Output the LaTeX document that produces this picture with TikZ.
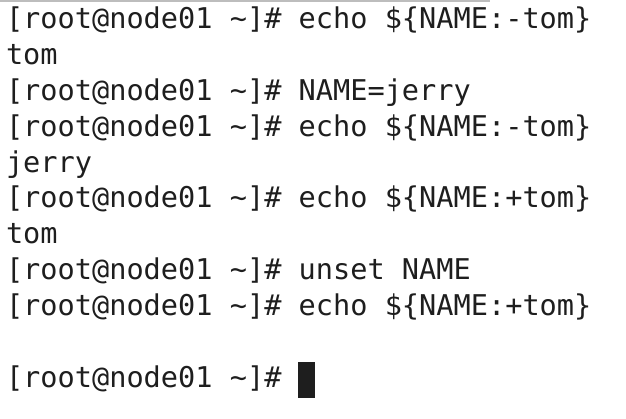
\documentclass[tikz,border=0pt]{standalone}
\usepackage{fontspec}
\setmonofont{DejaVu Sans Mono}
\begin{document}
\begin{tikzpicture}[x=1pt,y=1pt,
  term/.style={anchor=base west,inner sep=0pt,outer sep=0pt,font=\ttfamily\fontsize{28.6}{34}\selectfont,text=termtext}]
\definecolor{termtext}{HTML}{1E1E1E}
\definecolor{topline}{HTML}{BDBDBD}
\useasboundingbox (0,0) rectangle (626,-419);
\fill[white] (0,0) rectangle (626,-419);
\fill[topline] (0,0) rectangle (490,-2);
\def\P{[root@node01 \textasciitilde]\# }
\node[term] (l1) at (6,-28.5) {\P echo \$\{NAME:-tom\}};
\node[term] (l2) at (6,-64.4) {tom};
\node[term] (l3) at (6,-100.3) {\P NAME=jerry};
\node[term] (l4) at (6,-136.2) {\P echo \$\{NAME:-tom\}};
\node[term] (l5) at (6,-172.1) {jerry};
\node[term] (l6) at (6,-208.0) {\P echo \$\{NAME:+tom\}};
\node[term] (l7) at (6,-243.9) {tom};
\node[term] (l8) at (6,-279.8) {\P unset NAME};
\node[term] (l9) at (6,-315.7) {\P echo \$\{NAME:+tom\}};
\node[term] (l11) at (6,-387.5) {\P};
\fill[termtext] (298,-362) rectangle (315,-398);
\end{tikzpicture}
\end{document}
